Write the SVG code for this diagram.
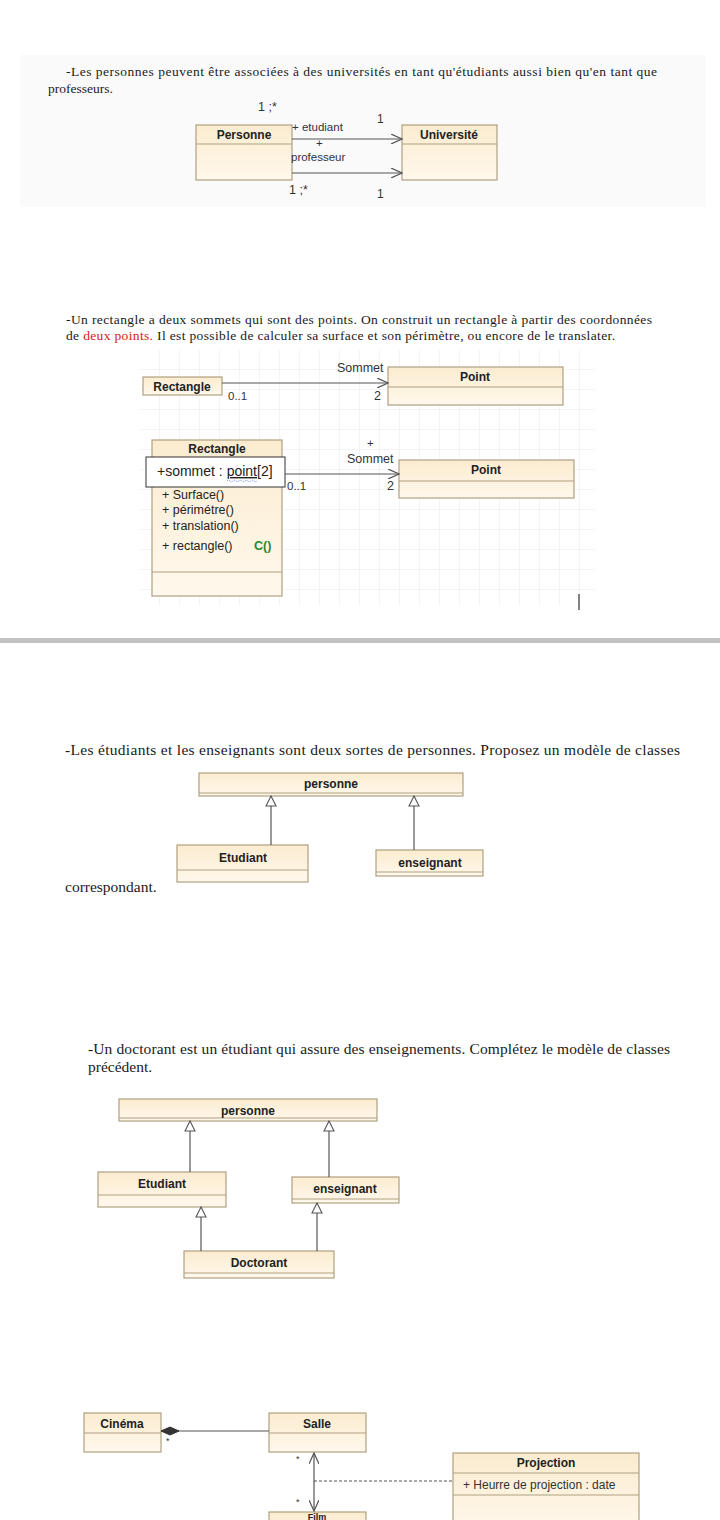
<svg xmlns="http://www.w3.org/2000/svg" width="720" height="1520" viewBox="0 0 720 1520">
<defs>
<linearGradient id="cls" x1="0" y1="0" x2="0" y2="1">
<stop offset="0" stop-color="#fbecd0"/>
<stop offset="1" stop-color="#fff8ec"/>
</linearGradient>
<pattern id="grid" width="20" height="20" patternUnits="userSpaceOnUse" x="140" y="350">
<path d="M20 0V20M0 20H20" fill="none" stroke="#e9e9e9" stroke-width="1"/>
</pattern>
<marker id="open" viewBox="0 0 12 10" refX="11" refY="5" markerWidth="12" markerHeight="10" markerUnits="userSpaceOnUse" orient="auto">
<path d="M0 0L11 5L0 10" fill="none" stroke="#555" stroke-width="1.2"/>
</marker>
<marker id="openS" viewBox="0 0 12 10" refX="1" refY="5" markerWidth="12" markerHeight="10" markerUnits="userSpaceOnUse" orient="auto">
<path d="M12 0L1 5L12 10" fill="none" stroke="#555" stroke-width="1.2"/>
</marker>
<marker id="tri" viewBox="0 0 12 12" refX="11" refY="6" markerWidth="12" markerHeight="12" markerUnits="userSpaceOnUse" orient="auto">
<path d="M1 1L11 6L1 11Z" fill="#fff" stroke="#555" stroke-width="1.1"/>
</marker>
<marker id="diamond" viewBox="0 0 20 10" refX="1" refY="5" markerWidth="20" markerHeight="10" markerUnits="userSpaceOnUse" orient="auto">
<path d="M1 5L10 1L19 5L10 9Z" fill="#333" stroke="#333"/>
</marker>
</defs>
<style>
.prose{font-family:"Liberation Serif","Times New Roman",serif;font-size:13.5px;fill:#1a1a1a}
.prose2{font-family:"Liberation Serif","Times New Roman",serif;font-size:15.5px;fill:#1a1a1a}
.box{fill:url(#cls);stroke:#b0a080;stroke-width:1.2}
.div{stroke:#b0a080;stroke-width:1}
.name{font-family:"Liberation Sans",Arial,sans-serif;font-size:12px;font-weight:bold;fill:#222;text-anchor:middle}
.lbl{font-family:"Liberation Sans",Arial,sans-serif;font-size:11.5px;fill:#333}
.op{font-family:"Liberation Sans",Arial,sans-serif;font-size:12.5px;fill:#222}
.edge{fill:none;stroke:#555;stroke-width:1.2}
</style>
<rect width="720" height="1520" fill="#fff"/>

<!-- Section 1 -->
<rect x="20" y="55" width="686" height="152" fill="#fbfafb"/>
<text class="prose" x="66" y="76" textLength="591">-Les personnes peuvent être associées à des universités en tant qu'étudiants aussi bien qu'en tant que</text>
<text class="prose" x="48" y="93">professeurs.</text>

<g id="personne1">
<rect class="box" x="196" y="125" width="96" height="55"/>
<line class="div" x1="196" y1="144" x2="292" y2="144"/>
<text class="name" x="244" y="139">Personne</text>
</g>
<g id="universite">
<rect class="box" x="402" y="125" width="95" height="55"/>
<line class="div" x1="402" y1="144" x2="497" y2="144"/>
<text class="name" x="449" y="139">Université</text>
</g>

<!-- Section 2 -->
<text class="prose" x="66" y="324" textLength="586">-Un rectangle a deux sommets qui sont des points. On construit un rectangle à partir des coordonnées</text>
<text class="prose" x="66" y="340" textLength="549">de <tspan fill="#d42020">deux points.</tspan> Il est possible de calculer sa surface et son périmètre, ou encore de le translater.</text>
<rect x="140" y="350" width="455" height="255" fill="url(#grid)"/>

<g id="rectangle1">
<rect class="box" x="143" y="377" width="79" height="18"/>
<text class="name" x="182" y="391">Rectangle</text>
</g>
<g id="point1">
<rect class="box" x="388" y="367" width="175" height="38"/>
<line class="div" x1="388" y1="387" x2="563" y2="387"/>
<text class="name" x="475" y="381">Point</text>
</g>

<g id="rectangle2">
<rect class="box" x="152" y="440" width="130" height="156"/>
<line class="div" x1="152" y1="572" x2="282" y2="572"/>
<text class="name" x="217" y="453">Rectangle</text>
<rect x="146" y="457" width="139" height="30" fill="#fff" stroke="#333" stroke-width="1"/>
<text class="op" x="157" y="476" style="font-size:14px">+sommet : <tspan text-decoration="underline">point</tspan>[2]</text>
<path d="M227 481q1.5 -1.5 3 0t3 0t3 0t3 0t3 0t3 0t3 0t3 0t3 0t3 0" fill="none" stroke="#5070e0" stroke-width="0.8" stroke-dasharray="1 1"/>
<text class="op" x="162" y="499">+ Surface()</text>
<text class="op" x="162" y="514">+ périmétre()</text>
<text class="op" x="162" y="530">+ translation()</text>
<text class="op" x="162" y="550">+ rectangle()</text>
<text class="op" x="254" y="550" style="fill:#2a8a2a;font-weight:bold">C()</text>
</g>
<g id="point2">
<rect class="box" x="399" y="460" width="175" height="38"/>
<line class="div" x1="399" y1="481" x2="574" y2="481"/>
<text class="name" x="486" y="474">Point</text>
</g>
<line x1="579" y1="594" x2="579" y2="610" stroke="#333" stroke-width="1.2"/>

<rect x="0" y="638" width="720" height="5" fill="#c2c2c2"/>

<!-- Section 3 -->
<text class="prose2" x="65" y="755" textLength="615">-Les étudiants et les enseignants sont deux sortes de personnes. Proposez un modèle de classes</text>
<text class="prose2" x="65" y="892">correspondant.</text>
<g id="personne3">
<rect class="box" x="199" y="773" width="264" height="23"/>
<line class="div" x1="199" y1="793" x2="463" y2="793"/>
<text class="name" x="331" y="788">personne</text>
</g>
<g id="etudiant3">
<rect class="box" x="177" y="845" width="131" height="37"/>
<line class="div" x1="177" y1="870" x2="308" y2="870"/>
<text class="name" x="243" y="862">Etudiant</text>
</g>
<g id="enseignant3">
<rect class="box" x="376" y="850" width="107" height="26"/>
<line class="div" x1="376" y1="872" x2="483" y2="872"/>
<text class="name" x="430" y="867">enseignant</text>
</g>

<!-- Section 4 -->
<text class="prose2" x="88" y="1054" textLength="582">-Un doctorant est un étudiant qui assure des enseignements. Complétez le modèle de classes</text>
<text class="prose2" x="88" y="1072">précédent.</text>
<g id="personne4">
<rect class="box" x="119" y="1099" width="258" height="22"/>
<line class="div" x1="119" y1="1118" x2="377" y2="1118"/>
<text class="name" x="248" y="1115">personne</text>
</g>
<g id="etudiant4">
<rect class="box" x="98" y="1172" width="128" height="35"/>
<line class="div" x1="98" y1="1195" x2="226" y2="1195"/>
<text class="name" x="162" y="1188">Etudiant</text>
</g>
<g id="enseignant4">
<rect class="box" x="292" y="1177" width="107" height="26"/>
<line class="div" x1="292" y1="1199" x2="399" y2="1199"/>
<text class="name" x="345" y="1193">enseignant</text>
</g>
<g id="doctorant">
<rect class="box" x="184" y="1251" width="150" height="27"/>
<line class="div" x1="184" y1="1273" x2="334" y2="1273"/>
<text class="name" x="259" y="1267">Doctorant</text>
</g>

<!-- Section 5 -->
<g id="cinema">
<rect class="box" x="84" y="1413" width="77" height="39"/>
<line class="div" x1="84" y1="1433" x2="161" y2="1433"/>
<text class="name" x="122" y="1428">Cinéma</text>
</g>
<g id="salle">
<rect class="box" x="269" y="1413" width="97" height="39"/>
<line class="div" x1="269" y1="1433" x2="366" y2="1433"/>
<text class="name" x="317" y="1428">Salle</text>
</g>
<g id="film">
<rect class="box" x="269" y="1512" width="97" height="30"/>
<text class="name" x="317" y="1520" style="font-size:9px">Film</text>
</g>
<g id="projection">
<rect class="box" x="453" y="1453" width="186" height="80"/>
<line class="div" x1="453" y1="1473" x2="639" y2="1473"/>
<line class="div" x1="453" y1="1495" x2="639" y2="1495"/>
<text class="name" x="546" y="1467">Projection</text>
<text class="lbl" x="463" y="1489" style="font-size:12px">+ Heurre de projection : date</text>
</g>

<!-- Connectors -->
<g id="connectors">
<line class="edge" x1="292" y1="139" x2="402" y2="139" marker-end="url(#open)"/>
<line class="edge" x1="292" y1="173" x2="402" y2="173" marker-end="url(#open)"/>
<line class="edge" x1="222" y1="383" x2="388" y2="383" marker-end="url(#open)"/>
<line class="edge" x1="285" y1="474" x2="399" y2="474" marker-end="url(#open)"/>
<line class="edge" x1="271" y1="845" x2="271" y2="796" marker-end="url(#tri)"/>
<line class="edge" x1="414" y1="850" x2="414" y2="796" marker-end="url(#tri)"/>
<line class="edge" x1="190" y1="1172" x2="190" y2="1121" marker-end="url(#tri)"/>
<line class="edge" x1="329" y1="1177" x2="329" y2="1121" marker-end="url(#tri)"/>
<line class="edge" x1="201" y1="1251" x2="201" y2="1207" marker-end="url(#tri)"/>
<line class="edge" x1="317" y1="1251" x2="317" y2="1203" marker-end="url(#tri)"/>
<line class="edge" x1="161" y1="1431" x2="269" y2="1431" marker-start="url(#diamond)"/>
<line class="edge" x1="314" y1="1453" x2="314" y2="1511" marker-start="url(#openS)" marker-end="url(#open)"/>
<line x1="314" y1="1481" x2="453" y2="1481" stroke="#555" stroke-width="1" stroke-dasharray="3 2"/>
<text class="lbl" x="258" y="111" style="font-size:12.5px">1 ;*</text>
<text class="lbl" x="292" y="131">+ etudiant</text>
<text class="lbl" x="377" y="123" style="font-size:12px">1</text>
<text class="lbl" x="316" y="147">+</text>
<text class="lbl" x="291" y="161">professeur</text>
<text class="lbl" x="289" y="194" style="font-size:12.5px">1 ;*</text>
<text class="lbl" x="377" y="198" style="font-size:12px">1</text>
<text class="lbl" x="337" y="372" style="font-size:12.5px">Sommet</text>
<text class="lbl" x="228" y="400">0..1</text>
<text class="lbl" x="374" y="400" style="font-size:12.5px">2</text>
<text class="lbl" x="367" y="447">+</text>
<text class="lbl" x="347" y="463" style="font-size:12.5px">Sommet</text>
<text class="lbl" x="287" y="490">0..1</text>
<text class="lbl" x="387" y="490" style="font-size:12.5px">2</text>
<text class="lbl" x="166" y="1444" style="font-size:9px">*</text>
<text class="lbl" x="296" y="1462" style="font-size:9px">*</text>
<text class="lbl" x="296" y="1505" style="font-size:9px">*</text>
</g>
</svg>
